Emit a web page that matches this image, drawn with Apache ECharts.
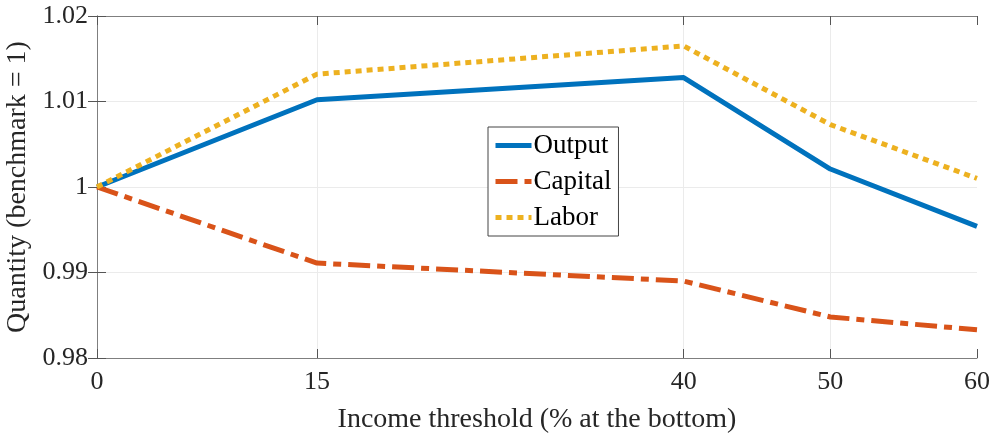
<!DOCTYPE html>
<html>
<head>
<meta charset="utf-8">
<script src="https://cdn.jsdelivr.net/npm/echarts@6/dist/echarts.min.js"></script>
<style>
  html, body { margin: 0; padding: 0; background: #fff; }
  #chart { width: 993px; height: 436px; }
</style>
</head>
<body>
<div id="chart"></div>
<script>
const thresholds = [0, 15, 40, 50, 60]
const output = [1.0000, 1.0102, 1.0128, 1.0021, 0.9954]
const capital = [1.0000, 0.9911, 0.9890, 0.9848, 0.9833]
const labor = [1.0000, 1.0132, 1.0165, 1.0073, 1.0010]
const yTicks = [0.98, 0.99, 1, 1.01, 1.02]

const font = "'Liberation Serif', 'Times New Roman', serif"
const axisColor = "#7f7f7f"
const textColor = "#262626"

const pairs = (ys) => thresholds.map((x, i) => [x, ys[i]])

const chart = echarts.init(document.getElementById("chart"))

const baseX = {
    type: "value", min: 0, max: 60,
    axisLine: { show: true, lineStyle: { color: axisColor, width: 1 } },
    axisTick: { show: true, inside: true, length: 9, customValues: thresholds, lineStyle: { color: "#555" } },
    splitLine: { show: false }
}
const baseY = {
    type: "value", min: 0.98, max: 1.02, interval: 0.01,
    axisLine: { show: true, lineStyle: { color: axisColor, width: 1 } },
    axisTick: { show: true, inside: true, length: 9, lineStyle: { color: "#555" } },
    splitLine: { show: false }
}

chart.setOption({
    animation: false,
    grid: { left: 97, right: 16, top: 16, bottom: 78, containLabel: false, outerBoundsMode: "none" },
    legend: {
        orient: "vertical",
        left: 488, top: 127, z: 10,
        backgroundColor: "#fff",
        borderColor: "#444",
        borderWidth: 1,
        borderRadius: 0,
        padding: [5, 7, 5, 5],
        itemGap: 9,
        itemWidth: 36,
        itemHeight: 14,
        itemStyle: { opacity: 0 },
        lineStyle: { width: 5 },
        textStyle: { fontFamily: font, fontSize: 27, color: "#000", padding: [0, 0, 0, -3] },
        data: ["Output", "Capital", "Labor"]
    },
    xAxis: [
        Object.assign({}, baseX, {
            position: "bottom",
            name: "Income threshold (% at the bottom)",
            nameLocation: "middle",
            nameGap: 48,
            nameTextStyle: { fontFamily: font, fontSize: 28, color: textColor },
            axisLabel: { show: true, customValues: thresholds, margin: 11, fontFamily: font, fontSize: 26, color: textColor }
        }),
        Object.assign({}, baseX, { position: "top", axisLabel: { show: false } })
    ],
    yAxis: [
        Object.assign({}, baseY, {
            position: "left",
            name: "Quantity (benchmark = 1)",
            nameLocation: "middle",
            nameGap: 62,
            nameTextStyle: { fontFamily: font, fontSize: 28, color: textColor },
            axisLabel: {
                show: true, margin: 9, fontFamily: font, fontSize: 26, color: textColor,
                formatter: (v) => {
                    const t = yTicks.find(t => Math.abs(t - v) < 1e-9)
                    return t === 1 ? "1" : String(t)
                }
            }
        }),
        Object.assign({}, baseY, { position: "right", axisLabel: { show: false } })
    ],
    series: [
        {
            name: "grid", type: "line", data: [], silent: true, z: 0,
            markLine: {
                symbol: "none", silent: true, label: { show: false }, z: 0,
                lineStyle: { color: "#ebebeb", width: 1, type: "solid" },
                data: thresholds.slice(1, -1).map(v => ({ xAxis: v }))
                    .concat(yTicks.slice(1, -1).map(v => ({ yAxis: v })))
            }
        },
        {
            name: "Output", type: "line", data: pairs(output), symbol: "none",
            itemStyle: { color: "#0072BD" },
            lineStyle: { color: "#0072BD", width: 5, cap: "butt", join: "round" }
        },
        {
            name: "Capital", type: "line", data: pairs(capital), symbol: "none",
            itemStyle: { color: "#D95319" },
            lineStyle: { color: "#D95319", width: 5, type: [22, 7, 8, 7], cap: "butt" }
        },
        {
            name: "Labor", type: "line", data: pairs(labor), symbol: "none",
            itemStyle: { color: "#EDB120" },
            lineStyle: { color: "#EDB120", width: 5, type: [6, 5], cap: "butt" }
        }
    ]
})

window.addEventListener("resize", () => chart.resize())
</script>
</body>
</html>
